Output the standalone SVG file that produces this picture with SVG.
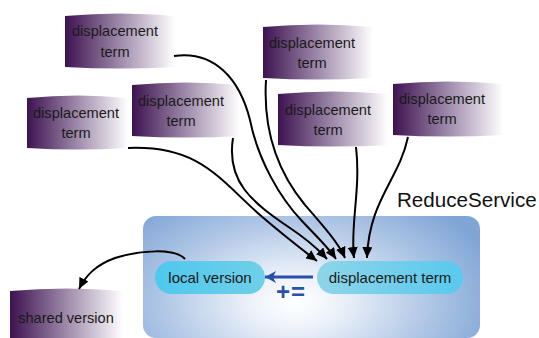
<svg xmlns="http://www.w3.org/2000/svg" width="539" height="338" viewBox="0 0 539 338">
<defs>
<linearGradient id="purple" x1="0" y1="0" x2="1" y2="0">
<stop offset="0" stop-color="#3d1250"/>
<stop offset="0.45" stop-color="#957ea2"/>
<stop offset="1" stop-color="#ffffff"/>
</linearGradient>
<radialGradient id="svc" gradientUnits="userSpaceOnUse" cx="295" cy="302" r="210" gradientTransform="translate(295,302) scale(1,0.6) translate(-295,-302)">
<stop offset="0" stop-color="#ffffff"/>
<stop offset="0.2" stop-color="#eef3fa"/>
<stop offset="0.65" stop-color="#aec5e5"/>
<stop offset="1" stop-color="#7fa5d6"/>
</radialGradient>
<linearGradient id="pillL" x1="0" y1="0" x2="1" y2="0">
<stop offset="0" stop-color="#4fc8ee"/>
<stop offset="1" stop-color="#70cfe8"/>
</linearGradient>
<linearGradient id="pillR" x1="0" y1="0" x2="1" y2="0">
<stop offset="0" stop-color="#8ed5e9"/>
<stop offset="1" stop-color="#58c9ed"/>
</linearGradient>
<marker id="ah" markerUnits="userSpaceOnUse" markerWidth="12" markerHeight="10" refX="11" refY="5" orient="auto">
<path d="M0,0 L11,5 L0,10 Z" fill="#000"/>
</marker>
<marker id="ahb" markerUnits="userSpaceOnUse" markerWidth="12" markerHeight="12" refX="11" refY="6" orient="auto">
<path d="M0,0 L11,6 L0,12 L3,6 Z" fill="#2850a8"/>
</marker>
</defs>
<style>
.box{fill:url(#purple);}
.t{font-family:"Liberation Sans",Arial,sans-serif;font-size:14.6px;fill:#1a1a1a;text-anchor:middle;}
.pt{font-family:"Liberation Sans",Arial,sans-serif;font-size:15px;fill:#1a1a1a;text-anchor:middle;}
.c{fill:none;stroke:#000;stroke-width:2;marker-end:url(#ah);}
</style>

<g id="reduceservice">
<rect x="143" y="216" width="337" height="122" rx="13" fill="url(#svc)"/>
<text x="397" y="207" font-family="Liberation Sans,Arial,sans-serif" font-size="20.6" fill="#111">ReduceService</text>
</g>

<g id="dtA">
<path class="box" d="M65,16 Q120,11 175,16 L175,67 Q120,70 65,67 Z"/>
<text class="t" x="115" y="36">displacement</text>
<text class="t" x="115" y="57">term</text>
</g>
<g id="dtB">
<path class="box" d="M27,98 Q78,93 128,98 L128,148 Q78,151 27,148 Z"/>
<text class="t" x="76" y="118">displacement</text>
<text class="t" x="76" y="138">term</text>
</g>
<g id="dtC">
<path class="box" d="M132,85 Q186,80 240,85 L240,136 Q186,139 132,136 Z"/>
<text class="t" x="181" y="106">displacement</text>
<text class="t" x="181" y="126">term</text>
</g>
<g id="dtD">
<path class="box" d="M263,27 Q318,22 373,27 L373,78 Q318,81 263,78 Z"/>
<text class="t" x="312" y="48">displacement</text>
<text class="t" x="312" y="68">term</text>
</g>
<g id="dtE">
<path class="box" d="M278,94 Q333,89 388,94 L388,145 Q333,148 278,145 Z"/>
<text class="t" x="328" y="115">displacement</text>
<text class="t" x="328" y="135">term</text>
</g>
<g id="dtF">
<path class="box" d="M393,84 Q448,79 503,84 L503,135 Q448,138 393,135 Z"/>
<text class="t" x="442" y="104">displacement</text>
<text class="t" x="442" y="124">term</text>
</g>
<g id="shared">
<path class="box" d="M10,291 Q67,286 123,291 L123,345 L10,345 Z"/>
<text class="t" x="66" y="323">shared version</text>
</g>

<g id="local">
<rect x="155" y="261" width="110" height="33" rx="16.5" fill="url(#pillL)"/>
<text class="pt" x="210" y="283">local version</text>
</g>
<g id="dterm">
<rect x="317" y="261" width="146" height="33" rx="16.5" fill="url(#pillR)"/>
<text class="pt" x="390" y="283">displacement term</text>
</g>

<g id="connectors">
<path class="c" d="M128,148 C200,145 220,180 260,215 C282,234 300,248 317,261"/>
<path class="c" d="M233,138 C226,182 252,202 290,228 C305,238 317,248 327,259"/>
<path class="c" d="M174,56 C215,50 240,80 250,120 C258,160 280,198 302,221 C316,236 328,247 336,259"/>
<path class="c" d="M266,80 C263,130 276,170 305,205 C325,228 339,244 345,258"/>
<path class="c" d="M356,147 C361,190 350,225 354,258"/>
<path class="c" d="M408,137 C399,180 369,200 367,258"/>
<path class="c" d="M185,259 C175,248 140,250 115,258 C96,265 86,275 79,289"/>
<path d="M313,277 L265,277" fill="none" stroke="#2850a8" stroke-width="3" marker-end="url(#ahb)"/>
<text x="276" y="300" font-family="Liberation Sans,Arial,sans-serif" font-size="24" font-weight="bold" fill="#2a52a6" letter-spacing="1">+=</text>
</g>
</svg>
